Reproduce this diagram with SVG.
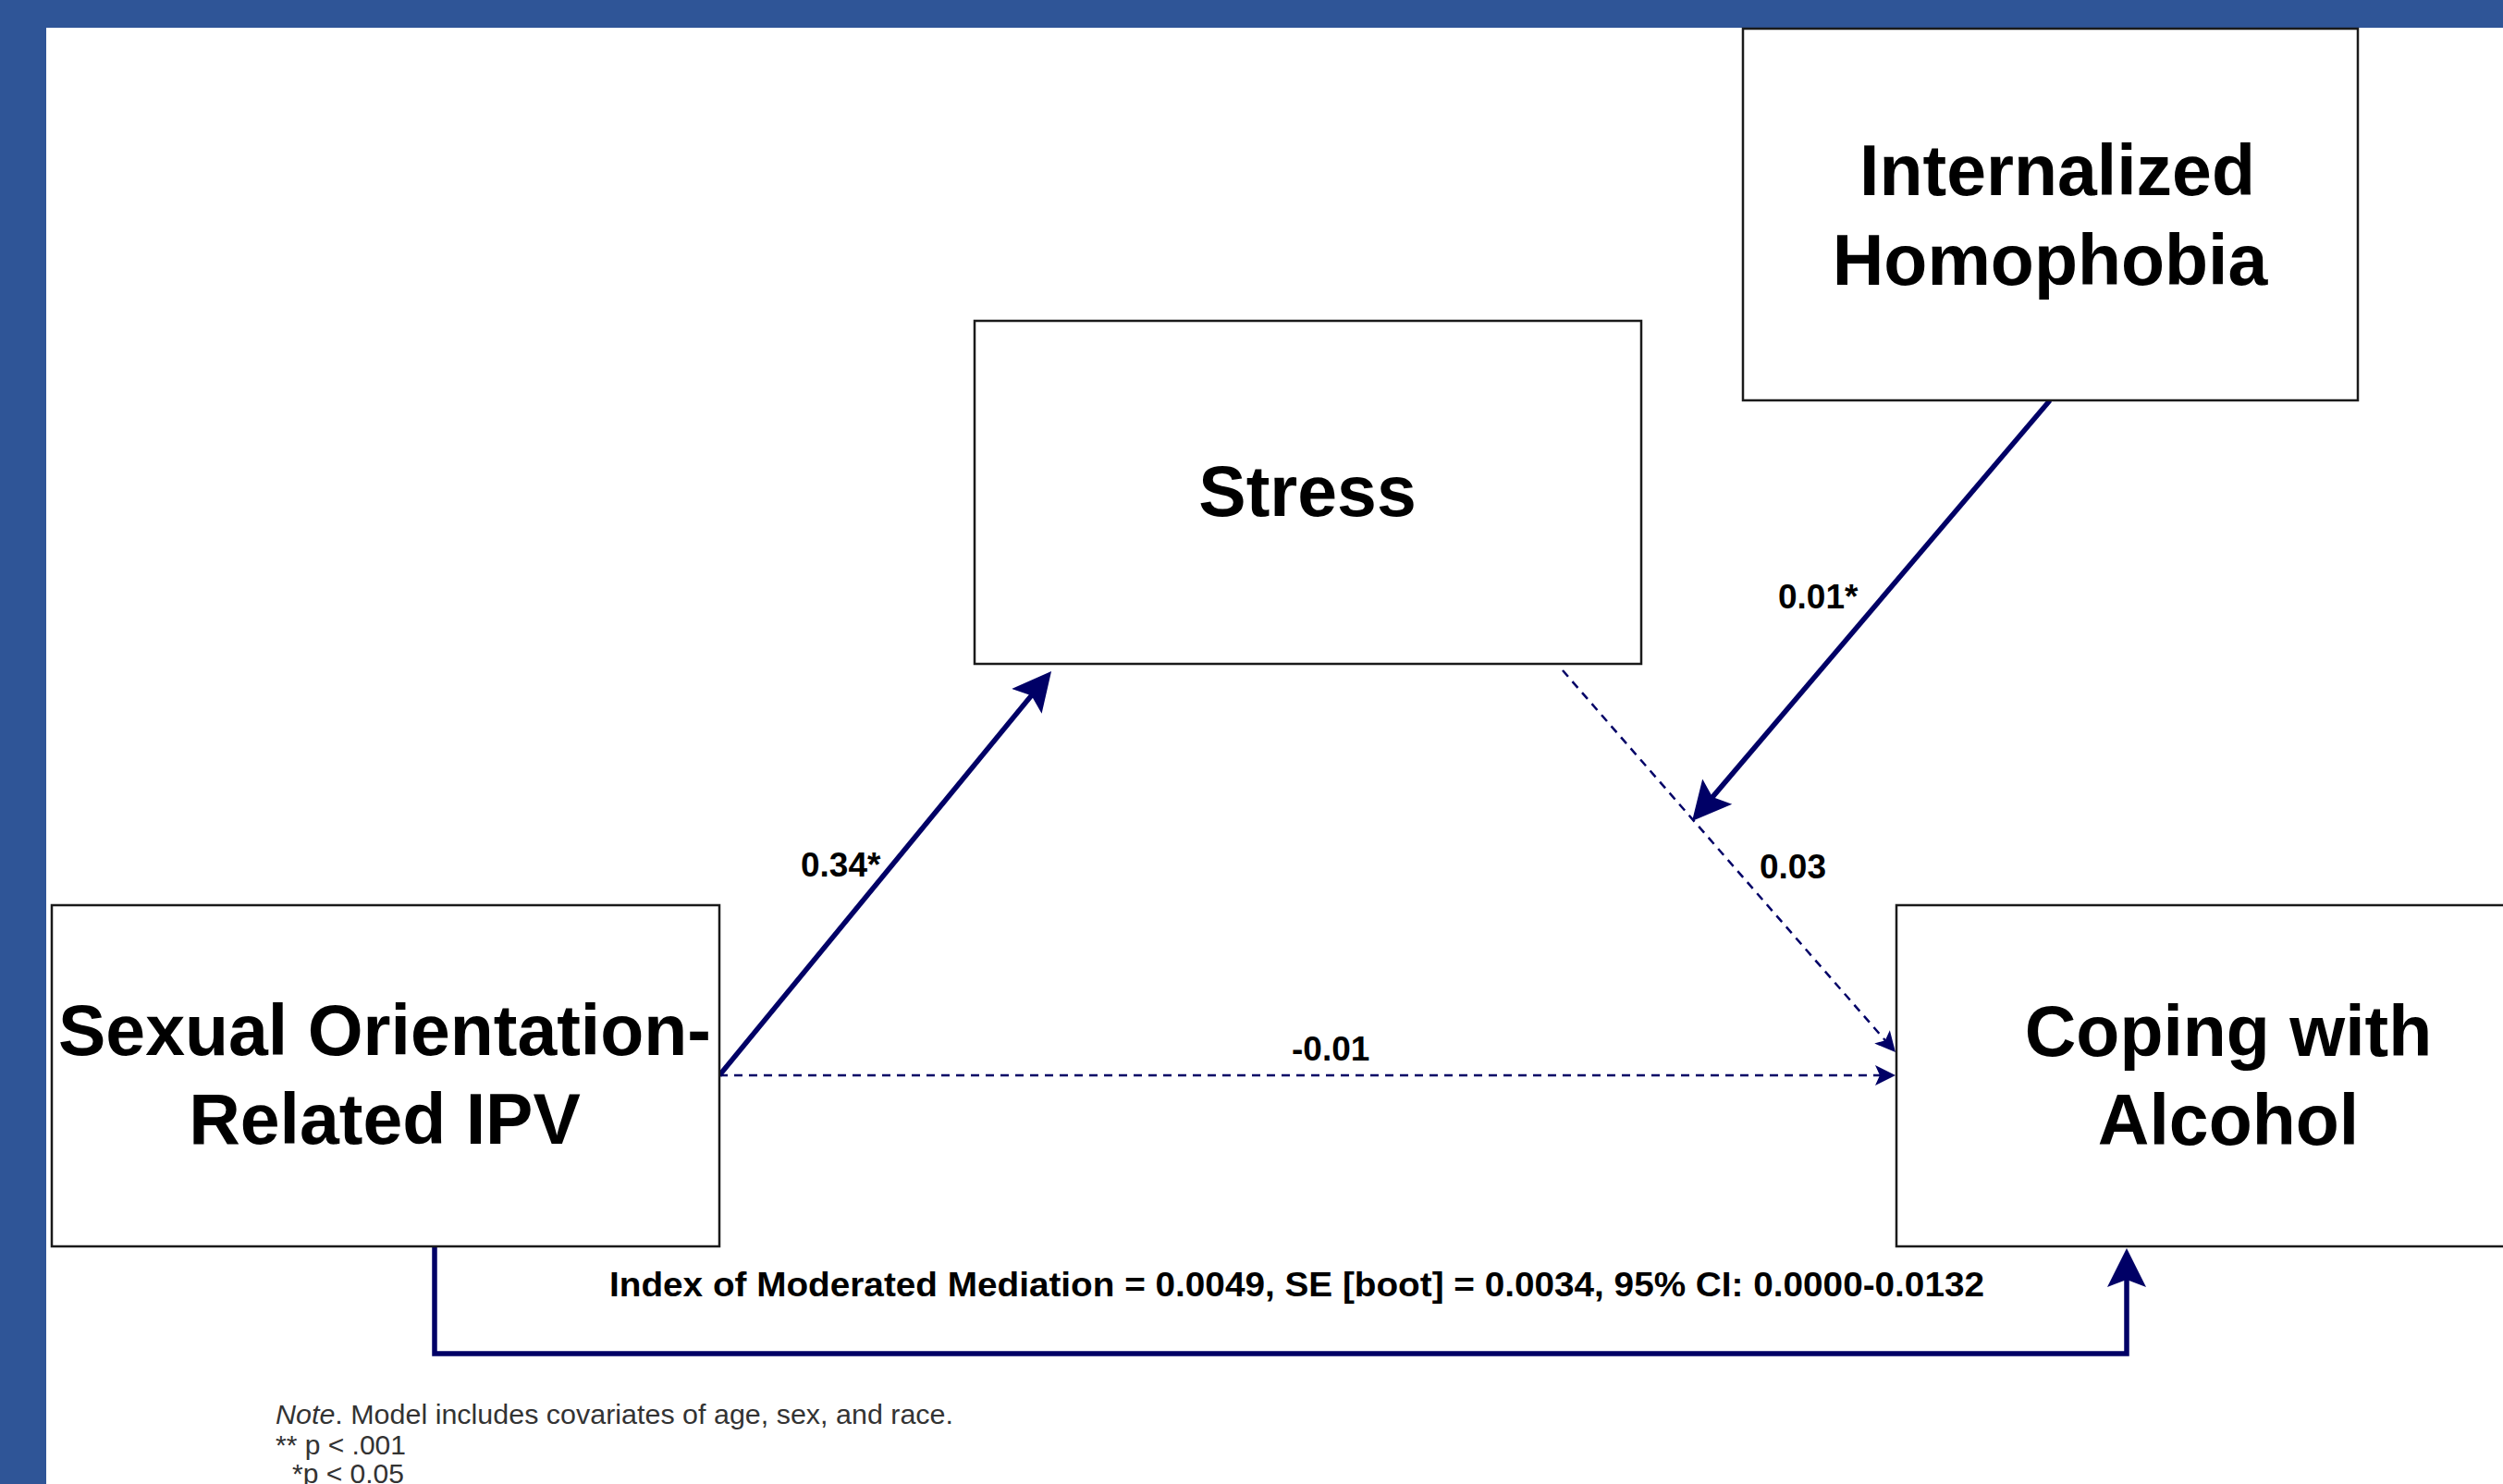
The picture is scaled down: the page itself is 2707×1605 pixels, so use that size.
<svg xmlns="http://www.w3.org/2000/svg" width="2707" height="1605" viewBox="0 0 2707 1605">
<defs>
<style>
.frame{fill:#2F5597}
.box{fill:#ffffff;stroke:#1a1a1a;stroke-width:2.5}
.ntext{font-family:"Liberation Sans",Arial,sans-serif;font-weight:bold;font-size:77px;fill:#000;text-anchor:middle}
.lbl{font-family:"Liberation Sans",Arial,sans-serif;font-weight:bold;font-size:37px;fill:#000}
.solid{fill:none;stroke:#000066;stroke-width:5.5}
.dash{fill:none;stroke:#000066;stroke-width:2.5;stroke-dasharray:9 7}
.note{font-family:"Liberation Sans",Arial,sans-serif;font-size:30px;fill:#333}
</style>
<marker id="big" markerUnits="userSpaceOnUse" markerWidth="44" markerHeight="44" refX="32" refY="21" orient="auto" viewBox="0 0 44 42">
<path d="M0,0 L42,21 L0,42 L8,21 z" fill="#000066"/>
</marker>
<marker id="small" markerUnits="userSpaceOnUse" markerWidth="24" markerHeight="24" refX="17" refY="11" orient="auto" viewBox="0 0 24 22">
<path d="M0,0 L22,11 L0,22 L5,11 z" fill="#000066"/>
</marker>
</defs>
<rect x="0" y="0" width="2707" height="1605" fill="#ffffff"/>
<rect class="frame" x="0" y="0" width="2707" height="30"/>
<rect class="frame" x="0" y="0" width="50" height="1605"/>

<g id="connectors">
<line class="solid" x1="778" y1="1163" x2="1130.7" y2="733.7" marker-end="url(#big)"/>
<line class="solid" x1="2217" y1="433" x2="1836.5" y2="880.4" marker-end="url(#big)"/>
<line class="dash" x1="1690" y1="725" x2="2046.7" y2="1134.2" marker-end="url(#small)"/>
<line class="dash" x1="778" y1="1163" x2="2045" y2="1163" marker-end="url(#small)"/>
<path class="solid" d="M470,1348 V1464 H2300 V1360" marker-end="url(#big)"/>
<text class="lbl" x="866" y="948">0.34*</text>
<text class="lbl" x="1923" y="658">0.01*</text>
<text class="lbl" x="1903" y="950">0.03</text>
<text class="lbl" x="1397" y="1147">-0.01</text>
<text class="lbl" x="659" y="1402" textLength="1487" lengthAdjust="spacingAndGlyphs">Index of Moderated Mediation = 0.0049, SE [boot] = 0.0034, 95% CI: 0.0000-0.0132</text>
</g>

<g id="node-homophobia">
<rect class="box" x="1885" y="31" width="665" height="402"/>
<text class="ntext" x="2225" y="211">Internalized</text>
<text class="ntext" x="2217" y="308">Homophobia</text>
</g>
<g id="node-stress">
<rect class="box" x="1054" y="347" width="721" height="371"/>
<text class="ntext" x="1414" y="558">Stress</text>
</g>
<g id="node-ipv">
<rect class="box" x="56" y="979" width="722" height="369"/>
<text class="ntext" x="416" y="1141">Sexual Orientation-</text>
<text class="ntext" x="416" y="1237">Related IPV</text>
</g>
<g id="node-coping">
<rect class="box" x="2051" y="979" width="722" height="369"/>
<text class="ntext" x="2410" y="1142">Coping with</text>
<text class="ntext" x="2410" y="1238">Alcohol</text>
</g>

<g id="note">
<text class="note" x="298" y="1540" textLength="733" lengthAdjust="spacingAndGlyphs"><tspan font-style="italic">Note</tspan>. Model includes covariates of age, sex, and race.</text>
<text class="note" x="298" y="1573" textLength="141" lengthAdjust="spacingAndGlyphs">** p &lt; .001</text>
<text class="note" x="316" y="1604" textLength="121" lengthAdjust="spacingAndGlyphs">*p &lt; 0.05</text>
</g>
</svg>
